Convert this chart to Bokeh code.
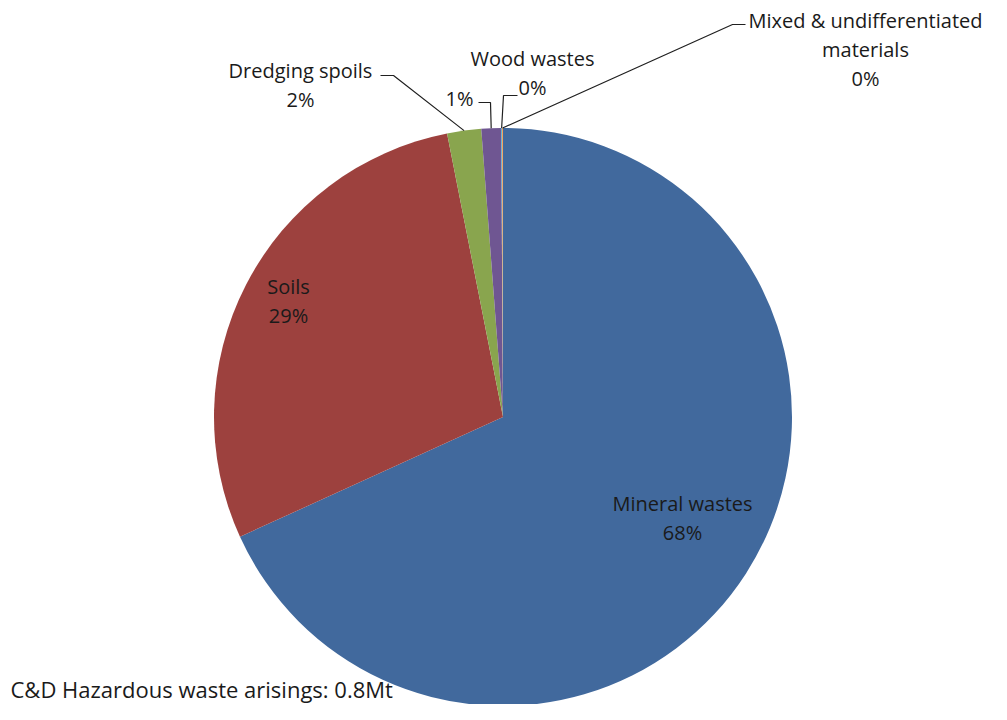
import math
from bokeh.plotting import figure
from bokeh.models import Range1d, ColumnDataSource
from bokeh.core.properties import value
from bokeh.embed import file_html
from bokeh.resources import INLINE

# ---------------- data ----------------
categories = ["Mineral wastes", "Soils", "Dredging spoils", "Other", "Wood wastes",
              "Mixed & undifferentiated materials"]
label_lines = [["Mineral wastes"], ["Soils"], ["Dredging spoils"], [], ["Wood wastes"],
               ["Mixed & undifferentiated", "materials"]]
shares = [68.2, 28.7, 1.9, 1.1, 0.05, 0.05]
colors = ["#41699D", "#9D413E", "#89A54E", "#6F5692", "#4BACC6", "#F79646"]
footnote = "C&D Hazardous waste arisings: 0.8Mt"

# ---------------- layout (reference pixel space) ----------------
W, H = 991, 704
CX, CY, R = 502.5, 416.5, 289.0
FONT = "Open Sans"
TXT = "#1a1a1a"
LINE_STEP = 29
# first-line centre of each label
label_pos = [(682, 503), (288, 286), (300, 70), (459, 98), (532, 58), (865, 20)]
# leader elbows: list of points from label side towards the pie (None = no leader)
leader_elbows = [None, None, [(380, 75), (393, 75)], [(478, 102), (490, 102)],
                 [(517, 95), (503, 95)], [(745, 24), (732, 24)]]


def Y(yref):
    return H - yref


p = figure(width=W, height=H, x_range=Range1d(0, W), y_range=Range1d(0, H),
           output_backend="svg", toolbar_location=None, min_border=0)
p.axis.visible = False
p.grid.visible = False
p.outline_line_color = None
p.background_fill_color = "white"
p.border_fill_color = "white"

total = sum(shares)
starts, ends, mids = [], [], []
cum = 0.0
for v in shares:
    t1 = cum / total * 360.0
    t2 = (cum + v) / total * 360.0
    starts.append(math.radians(90 - t2))
    ends.append(math.radians(90 - t1))
    mids.append((t1 + t2) / 2.0)
    cum += v

src = ColumnDataSource(dict(x=[CX] * len(shares), y=[Y(CY)] * len(shares),
                            start=starts, end=ends, color=colors, cat=categories))
p.wedge(x="x", y="y", radius=R, start_angle="start", end_angle="end",
        direction="anticlock", fill_color="color", line_color=None, source=src)

# labels
tx, ty, tt = [], [], []
for i, v in enumerate(shares):
    lines = label_lines[i] + [f"{round(v)}%"]
    x0, y0 = label_pos[i]
    for k, s in enumerate(lines):
        tx.append(x0)
        ty.append(Y(y0 + k * LINE_STEP))
        tt.append(s)
p.text(x=tx, y=ty, text=tt, text_font=value(FONT), text_font_size="20px",
       text_align="center", text_baseline="middle", text_color=TXT)

# leader lines
for i, elbows in enumerate(leader_elbows):
    if elbows is None:
        continue
    th = math.radians(mids[i])
    ex = CX + R * math.sin(th)
    ey = CY - R * math.cos(th)
    pts = elbows + [(ex, ey)]
    p.line(x=[a for a, b in pts], y=[Y(b) for a, b in pts], line_color="#202020",
           line_width=1.2)

# footnote (kept inside the canvas)
p.text(x=[10], y=[Y(688)], text=[footnote], text_font=value(FONT), text_font_size="22px",
       text_align="left", text_baseline="middle", text_color=TXT)

open("out.html", "w").write(file_html(p, INLINE))
